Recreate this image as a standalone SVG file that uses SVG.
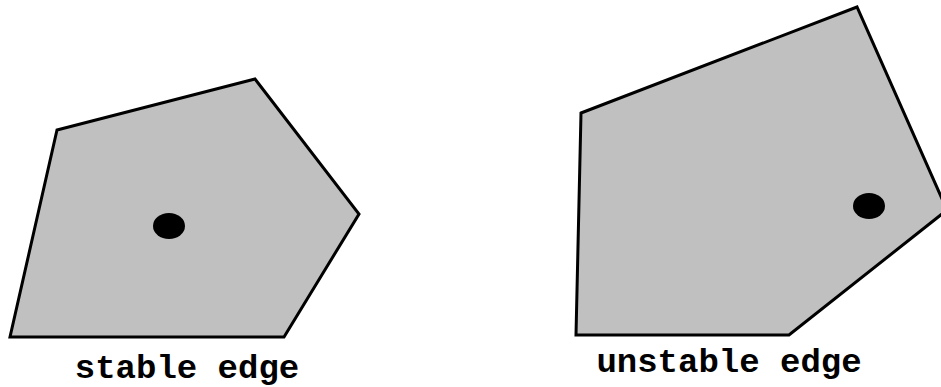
<svg xmlns="http://www.w3.org/2000/svg" width="941" height="387" viewBox="0 0 941 387">
<style>
.poly{fill:#c0c0c0;stroke:#000;stroke-width:3;stroke-linejoin:miter}
.dot{fill:#000}
.lbl{font-family:"Liberation Mono","Courier New",monospace;font-weight:bold;font-size:34px;fill:#000;text-anchor:middle}
</style>
<rect width="941" height="387" fill="#fff"/>
<g id="stable">
<polygon class="poly" points="57,130 255,79 359,214 284,337 10,337"/>
<ellipse class="dot" cx="169" cy="226" rx="16" ry="13"/>
<text class="lbl" x="187" y="378">stable edge</text>
</g>
<g id="unstable">
<polygon class="poly" points="581,113 857,7 947,210 789,335 576,335"/>
<ellipse class="dot" cx="869" cy="206" rx="16" ry="13"/>
<text class="lbl" x="729" y="372">unstable edge</text>
</g>
<g id="connectors"></g>
</svg>
